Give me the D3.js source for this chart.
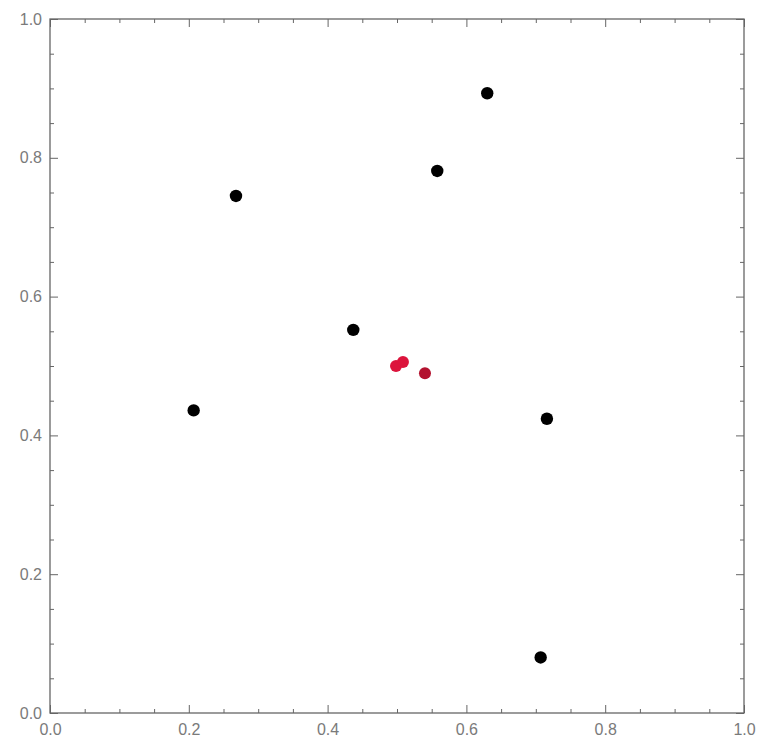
<!DOCTYPE html>
<html>
<head>
<meta charset="utf-8">
<script src="https://cdn.jsdelivr.net/npm/d3@7"></script>
<style>
  body { margin: 0; background: #fff; }
  svg text { font-family: "Liberation Sans", Arial, sans-serif; }
</style>
</head>
<body>
<svg id="chart" width="758" height="746"></svg>
<script>
// black points
const blackX = [0.630, 0.558, 0.268, 0.437, 0.207, 0.716, 0.707];
const blackY = [0.893, 0.781, 0.745, 0.552, 0.436, 0.424, 0.080];
// red points
const redX = [0.4986, 0.5086, 0.5403];
const redY = [0.500, 0.5058, 0.4895];
const redColors = ["#dc143c", "#dc143c", "#b3122f"];
// ticks
const majorTicks = [0, 0.2, 0.4, 0.6, 0.8, 1.0];
const minorTicks = d3.range(0, 21).map((i) => i / 20).filter((v) => Math.round(v * 100) % 20 !== 0);

const margin = { left: 50, top: 19, right: 14, bottom: 33 };
const width = 758 - margin.left - margin.right;
const height = 746 - margin.top - margin.bottom;

const svg = d3.select("#chart");
const g = svg.append("g").attr("transform", `translate(${margin.left},${margin.top})`);

const xScale = d3.scaleLinear().domain([0, 1]).range([0, width]);
const yScale = d3.scaleLinear().domain([0, 1]).range([height, 0]);

const axisColor = "#666";
const labelColor = "#7a7a7a";

/**
 * Draws an axis with inward major and minor ticks
 */
function drawAxis(axisFn, scale, transform, padding) {
  const major = axisFn(scale)
    .tickValues(majorTicks)
    .tickSize(-8)
    .tickPadding(padding)
    .tickFormat(padding ? d3.format(".1f") : () => "");
  const minor = axisFn(scale).tickValues(minorTicks).tickSize(-4).tickFormat(() => "");

  const ga = g.append("g").attr("transform", transform).call(major);
  ga.select(".domain").remove();
  ga.selectAll("line").attr("stroke", axisColor);
  ga.selectAll("text").attr("fill", labelColor).style("font-size", "16px");

  const gm = g.append("g").attr("transform", transform).call(minor);
  gm.select(".domain").remove();
  gm.selectAll("line").attr("stroke", axisColor);
  return ga;
}

drawAxis(d3.axisBottom, xScale, `translate(0,${height})`, 11);
drawAxis(d3.axisLeft, yScale, "translate(0,0)", 8);
drawAxis(d3.axisTop, xScale, "translate(0,0)", 0);
drawAxis(d3.axisRight, yScale, `translate(${width},0)`, 0);

// frame
g.append("rect")
  .attr("x", 0)
  .attr("y", 0)
  .attr("width", width)
  .attr("height", height)
  .attr("fill", "none")
  .attr("stroke", axisColor)
  .attr("stroke-width", 1.3);

const blackData = blackX.map((x, i) => ({ x, y: blackY[i] }));
const redData = redX.map((x, i) => ({ x, y: redY[i], c: redColors[i] }));

g.selectAll(".black-dot")
  .data(blackData)
  .join("circle")
  .attr("class", "black-dot")
  .attr("cx", (d) => xScale(d.x))
  .attr("cy", (d) => yScale(d.y))
  .attr("r", 6.2)
  .attr("fill", "#000");

g.selectAll(".red-dot")
  .data(redData)
  .join("circle")
  .attr("class", "red-dot")
  .attr("cx", (d) => xScale(d.x))
  .attr("cy", (d) => yScale(d.y))
  .attr("r", 6)
  .attr("fill", (d) => d.c);
</script>
</body>
</html>
